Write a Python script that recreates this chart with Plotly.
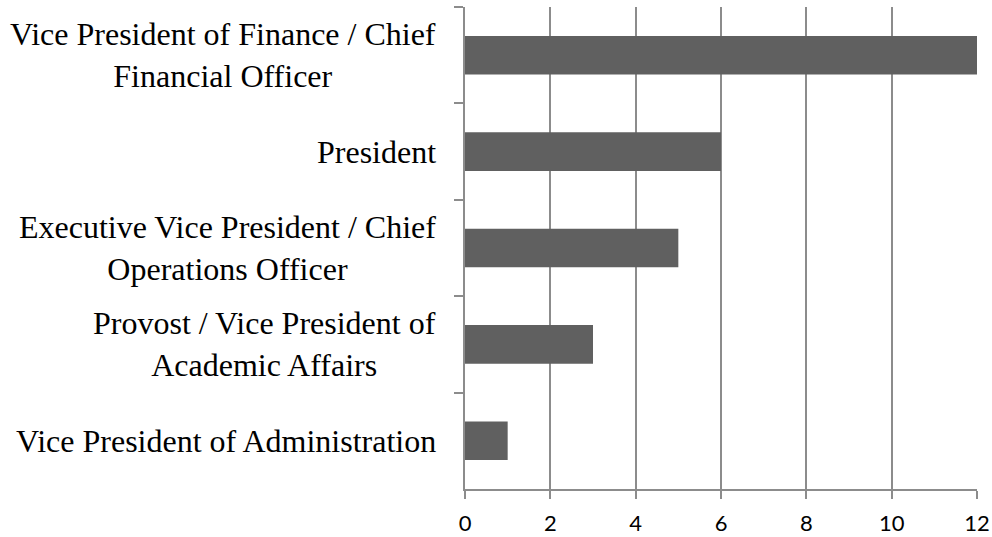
import plotly.graph_objects as go

# Positions held, listed top to bottom
positions = [
    "Vice President of Finance / Chief<br>Financial Officer",
    "President",
    "Executive Vice President / Chief<br>Operations Officer",
    "Provost / Vice President of<br>Academic Affairs",
    "Vice President of Administration",
]
counts = [12, 6, 5, 3, 1]
x_ticks = [0, 2, 4, 6, 8, 10, 12]

GRID = "#8c8c8c"
BAR = "#606060"

fig = go.Figure(
    go.Bar(
        x=counts,
        y=positions,
        orientation="h",
        marker=dict(color=BAR, line=dict(width=0)),
        width=0.4,
        hoverinfo="x+y",
    )
)

fig.update_layout(
    template="none",
    width=992,
    height=537,
    margin=dict(l=465, r=15, t=7, b=48, pad=0),
    paper_bgcolor="white",
    plot_bgcolor="white",
    showlegend=False,
    bargap=0.6,
)

fig.update_xaxes(
    automargin=False,
    range=[0, 12],
    tickvals=x_ticks,
    ticktext=[str(v) for v in x_ticks],
    showgrid=True,
    gridcolor=GRID,
    gridwidth=1.5,
    zeroline=False,
    showline=True,
    linecolor=GRID,
    linewidth=1.5,
    ticks="outside",
    ticklen=8,
    tickwidth=1.5,
    tickcolor=GRID,
    tickfont=dict(family="Lato", size=22, color="black"),
    ticklabelstandoff=6,
)

fig.update_yaxes(
    automargin=False,
    categoryorder="array",
    categoryarray=positions,
    autorange="reversed",
    showgrid=False,
    zeroline=False,
    showline=True,
    linecolor=GRID,
    linewidth=1.5,
    ticks="outside",
    tickson="boundaries",
    ticklen=9,
    tickwidth=1.5,
    tickcolor=GRID,
    showticklabels=False,
)

# Category labels: right-anchored beside the axis, wrapped lines centred
for name in positions:
    fig.add_annotation(
        x=0,
        xref="paper",
        y=name,
        yref="y",
        text=name,
        showarrow=False,
        xanchor="right",
        yanchor="middle",
        align="center",
        xshift=-27,
        font=dict(family="Liberation Serif", size=32, color="black"),
    )

fig.write_html("out.html")
